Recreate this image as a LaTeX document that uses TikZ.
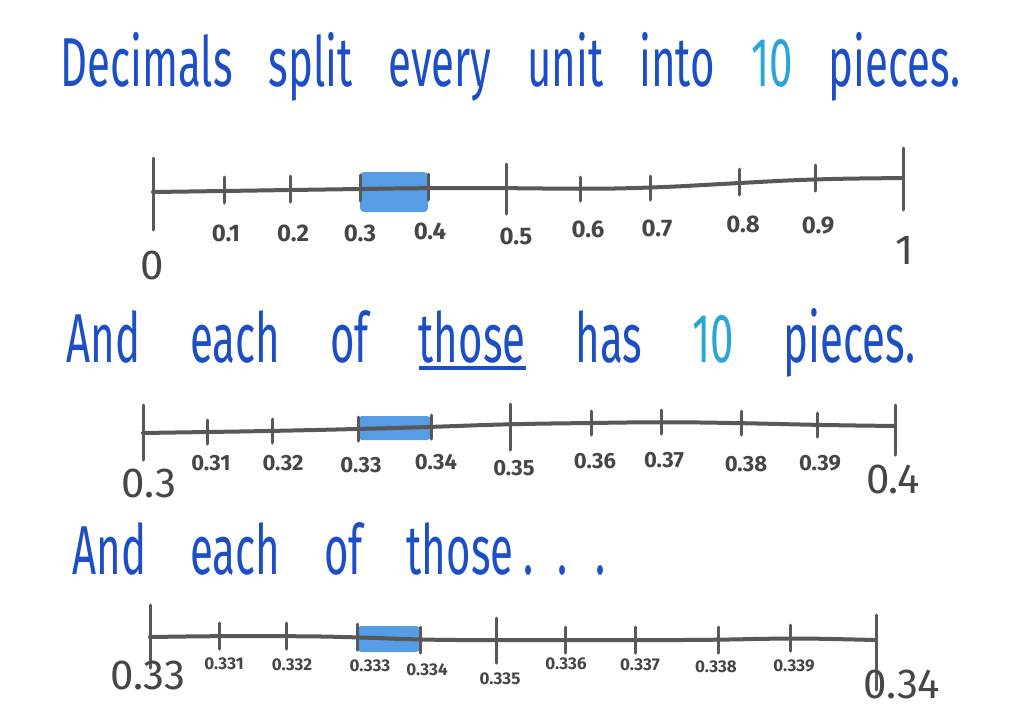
\documentclass[tikz,border=0pt]{standalone}
\usepackage{fontspec}
\setmainfont{Fira Sans}
\usepackage{graphicx}
\usetikzlibrary{calc}
\definecolor{inkblue}{HTML}{1C4FC6}
\definecolor{skyblue}{HTML}{2AA5DA}
\definecolor{pencil}{HTML}{585858}
\definecolor{crayon}{HTML}{3A8CE2}
\newcommand{\tall}[1]{\scalebox{1}[1.65]{#1}}
\newcommand{\stress}[1]{\setbox0\hbox{#1}\rlap{\rule[-2.5pt]{\wd0}{1.2pt}}\box0\relax}
\tikzstyle{sentence} = [text=inkblue, inner sep=0pt, anchor=base west, font=\fontsize{21}{21}\selectfont]
\tikzstyle{axis} = [draw=pencil, line width=2pt, line cap=round, rounded corners=20pt]
\tikzstyle{tick} = [draw=pencil, line width=1.5pt, line cap=round]
\tikzstyle{lab} = [text=pencil!80!black, inner sep=0pt]
\tikzstyle{endlab} = [lab, font=\fontsize{21}{21}\selectfont]
\tikzstyle{shaded} = [fill=crayon, fill opacity=0.85, rounded corners=2pt]

\begin{document}
\begin{tikzpicture}[x=0.5pt, y=-0.5pt]
	\fill[white] (0,0) rectangle (1024,724);

	% titles
	\node[sentence] (top) at (60,86) {\tall{\spaceskip=18pt Decimals split every unit into \textcolor{skyblue}{10} pieces.}};
	\node[sentence] (mid) at (66,362) {\tall{\spaceskip=25pt And each of \stress{those} has \textcolor{skyblue}{10} pieces.}};
	\node[sentence] (low) at (72,574) {\tall{\spaceskip=22pt And each of those\hspace{5pt}.\hspace{12pt}.\hspace{14pt}.}};

	% units
	\foreach \i/\x/\y in {0/153/192, 1/224/191, 2/290/190, 3/360/189, 4/428/188, 5/506/188, 6/580/189, 7/650/188, 8/739/183, 9/815/179, 10/903/178}
		\coordinate (a\i) at (\x,\y);
	\fill[shaded] ($(a3)+(0,-17)$) rectangle ($(a4)+(0,24)$);
	\draw[axis] (a0) \foreach \i in {1,...,10}{-- (a\i)};
	\foreach \i/\u/\d in {0/17/19, 1/7/6, 2/7/6, 3/7/6, 4/7/6, 5/12/13, 6/6/6, 7/6/6, 8/7/6, 9/7/6, 10/15/16}
		\draw[tick] ([yshift=\u pt]a\i) -- ([yshift=-\d pt]a\i);
	\foreach \i/\x/\y/\t in {1/226/233/0.1, 2/293/233/0.2, 3/360/233/0.3, 4/430/231/0.4, 5/516/236/0.5, 6/588/229/0.6, 7/657/228/0.7, 8/743/224/0.8, 9/818/226/0.9}
		\node[lab, font=\fontsize{12}{12}\selectfont\bfseries] (la\i) at (\x,\y) {\t};
	\node[endlab] (la0) at (152,265) {0};
	\node[endlab] (la10) at (905,250) {1};

	% tenths
	\foreach \i/\x/\y in {0/143/433, 1/207/432, 2/272/431, 3/358/429, 4/431/427, 5/510/424, 6/591/423, 7/661/422, 8/741/423, 9/817/425, 10/895/426}
		\coordinate (b\i) at (\x,\y);
	\fill[shaded] ($(b3)+(0,-13)$) rectangle ($(b4)+(0,13)$);
	\draw[axis] (b0) \foreach \i in {1,...,10}{-- (b\i)};
	\foreach \i/\u/\d in {0/14/13.5, 1/6/6, 2/6/6, 3/6/6, 4/6/6, 5/10/13, 6/6/6, 7/6/6, 8/6/6, 9/6/6, 10/10.5/14.5}
		\draw[tick] ([yshift=\u pt]b\i) -- ([yshift=-\d pt]b\i);
	\foreach \i/\x/\y/\t in {1/211/463/0.31, 2/283/463/0.32, 3/361/465/0.33, 4/436/462/0.34, 5/514/468/0.35, 6/595/461/0.36, 7/664/460/0.37, 8/746/464/0.38, 9/820/463/0.39}
		\node[lab, font=\fontsize{11}{11}\selectfont\bfseries] (lb\i) at (\x,\y) {\t};
	\node[endlab] (lb0) at (149,483) {0.3};
	\node[endlab] (lb10) at (893,479) {0.4};

	% hundredths
	\foreach \i/\x/\y in {0/150/637, 1/219/636, 2/286/636, 3/357/637, 4/420/640, 5/496/640, 6/565/640, 7/635/640, 8/718/640, 9/790/638, 10/876/640}
		\coordinate (c\i) at (\x,\y);
	\fill[shaded] ($(c3)+(0,-11)$) rectangle ($(c4)+(0,12)$);
	\draw[axis] (c0) \foreach \i in {1,...,10}{-- (c\i)};
	\foreach \i/\u/\d in {0/16/15.5, 1/6.5/6.5, 2/6.5/6.5, 3/6.5/6.5, 4/6.5/6.5, 5/11/11.5, 6/6.5/6.5, 7/6.5/6.5, 8/6.5/6.5, 9/6.5/6.5, 10/12.5/25}
		\draw[tick] ([yshift=\u pt]c\i) -- ([yshift=-\d pt]c\i);
	\foreach \i/\x/\y/\t in {1/224/664/0.331, 2/292/665/0.332, 3/370/666/0.333, 4/427/670/0.334, 5/500/679/0.335, 6/566/664/0.336, 7/640/665/0.337, 8/716/667/0.338, 9/794/666/0.339}
		\node[lab, font=\fontsize{8.5}{8.5}\selectfont\bfseries] (lc\i) at (\x,\y) {\t};
	\node[endlab] (lc0) at (148,675) {0.33};
	\node[endlab] (lc10) at (902,684) {0.34};
\end{tikzpicture}
\end{document}
